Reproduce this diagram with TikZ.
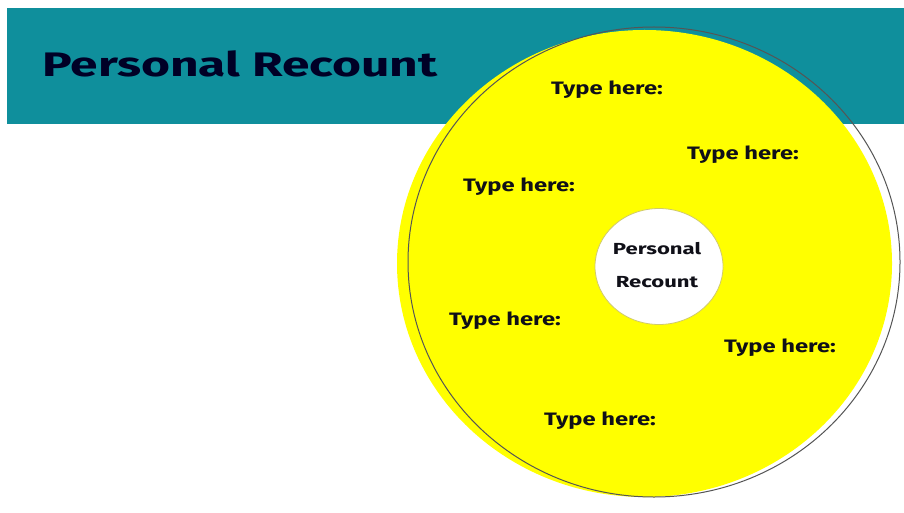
\documentclass[tikz,border=0pt]{standalone}
\usepackage{fontspec}
\usetikzlibrary{shapes.geometric}
\setmainfont{Fira Sans}
\definecolor{teal1}{HTML}{0F8F9C}
\definecolor{yel}{HTML}{FFFF00}
\definecolor{ringgray}{HTML}{555555}
\definecolor{inkc}{HTML}{101018}
\tikzset{
  typelbl/.style={font=\fontsize{18}{18}\selectfont\bfseries, text=inkc, inner sep=0pt, xscale=1.32, transform shape},
  ctrlbl/.style={font=\fontsize{16}{16}\selectfont\bfseries, text=inkc, inner sep=0pt, xscale=1.38, transform shape},
}
\begin{document}
\begin{tikzpicture}[x=1pt,y=-1pt]
\useasboundingbox (0,0) rectangle (904,513);
\fill[white] (0,0) rectangle (904,513);
% banner
\fill[teal1] (7,8) rectangle (904,124);
\node[anchor=west, font=\fontsize{34}{34}\selectfont\bfseries, text=black!85!blue, inner sep=0pt, xscale=1.46, transform shape] (title) at (42,64) {Personal Recount};
% yellow disc and outline
\fill[yel] (644.5,263.5) ellipse [x radius=247.5, y radius=233.5];
\draw[ringgray, line width=1pt] (654,262) ellipse [x radius=246, y radius=235];
% inner circle
\node[draw=black!30!yellow!70!white, line width=0.8pt, fill=white, ellipse, minimum width=128pt, minimum height=116pt] (centre) at (659,266.5) {};
\node[ctrlbl] (c1) at (657,249) {Personal};
\node[ctrlbl] (c2) at (657,282) {Recount};
% labels
\node[typelbl] (t1) at (607,90) {Type here:};
\node[typelbl] (t2) at (743,155) {Type here:};
\node[typelbl] (t3) at (519,187) {Type here:};
\node[typelbl] (t4) at (505,321) {Type here:};
\node[typelbl] (t5) at (780,348) {Type here:};
\node[typelbl] (t6) at (600,421) {Type here:};
\end{tikzpicture}
\end{document}
